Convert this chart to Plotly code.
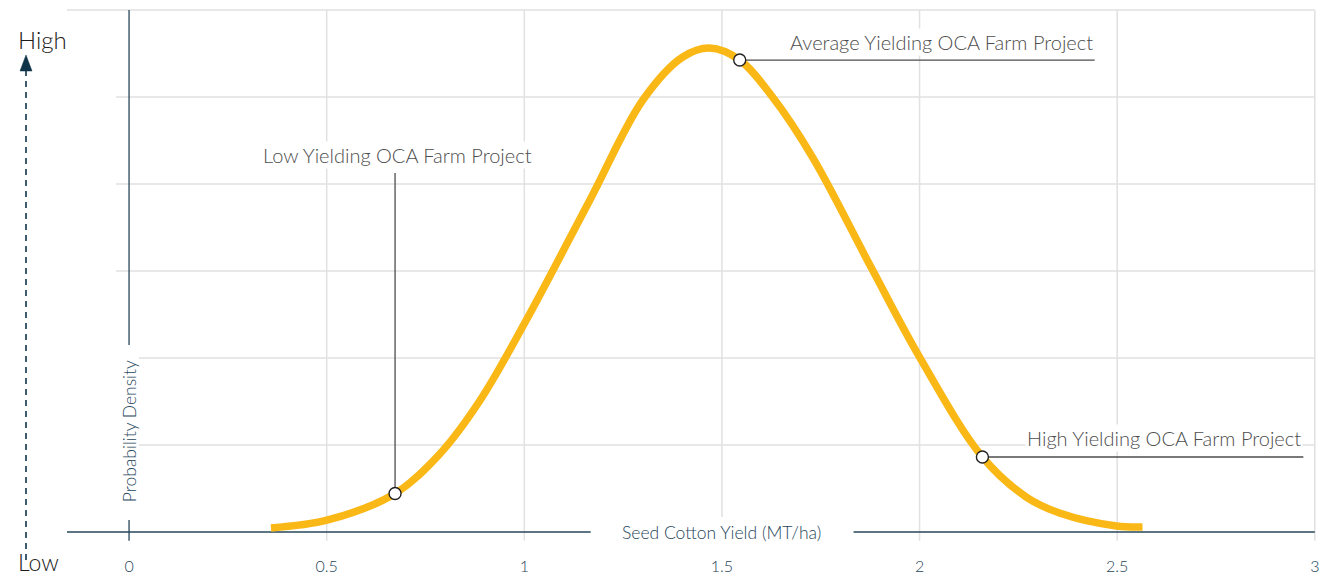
import plotly.graph_objects as go

# ---------------- data ----------------
curve_x = [0.359, 0.503, 0.673, 0.786, 0.887, 1.001, 1.166, 1.300, 1.401, 1.469,
           1.545, 1.628, 1.729, 1.881, 2.000, 2.159, 2.270, 2.354, 2.498, 2.564]
curve_y = [0.046, 0.138, 0.443, 0.897, 1.506, 2.402, 3.816, 4.966, 5.460, 5.563,
           5.425, 5.000, 4.310, 3.011, 2.011, 0.862, 0.402, 0.218, 0.069, 0.057]

point_names = ["Low Yielding OCA Farm Project",
               "Average Yielding OCA Farm Project",
               "High Yielding OCA Farm Project"]
point_x = [0.673, 1.545, 2.159]
point_y = [0.443, 5.425, 0.862]

tick_vals = [0, 0.5, 1, 1.5, 2, 2.5, 3]
tick_text = ["0", "0.5", "1", "1.5", "2", "2.5", "3"]
grid_y = [1, 2, 3, 4, 5, 6]

x_title = "Seed Cotton Yield (MT/ha)"
y_title = "Probability Density"

# ---------------- style / layout ----------------
FONT = "Lato"
NAVY = "#27465a"
GRID = "#e1e1e1"
ANN = "#4d4d4d"
YELLOW = "#f9b816"

W, H = 1320, 576
L, R, T, B = 67, 4, 9, 34
XR = [-0.157, 3.003]
YR = [-0.115, 6.012]


def px_to_paper_x(px):
    return (px - L) / (W - L - R)


def px_to_paper_y(py):
    return (H - B - py) / (H - T - B)


fig = go.Figure()

shapes = []
# vertical gridlines
for v in tick_vals[1:]:
    shapes.append(dict(type="line", xref="x", yref="y", x0=v, x1=v, y0=-0.1, y1=6,
                       line=dict(color=GRID, width=1.5), layer="below"))
# horizontal gridlines
for g in grid_y:
    x_start = XR[0] if g == 6 else -0.033
    shapes.append(dict(type="line", xref="x", yref="y", x0=x_start, x1=3, y0=g, y1=g,
                       line=dict(color=GRID, width=1.5), layer="below"))
# axis lines
shapes.append(dict(type="line", xref="x", yref="y", x0=XR[0], x1=3, y0=0, y1=0,
                   line=dict(color=NAVY, width=1.3), layer="below"))
shapes.append(dict(type="line", xref="x", yref="y", x0=0, x1=0, y0=-0.1, y1=6,
                   line=dict(color=NAVY, width=1.3), layer="below"))

# white backing behind axis titles
shapes.append(dict(type="rect", xref="x", yref="y", x0=1.168, x1=1.833, y0=-0.11, y1=0.172,
                   fillcolor="white", line=dict(width=0), layer="above"))
shapes.append(dict(type="rect", xref="x", yref="y", x0=-0.035, x1=0.025, y0=0.138, y1=2.15,
                   fillcolor="white", line=dict(width=0), layer="above"))

# annotation leader lines
shapes.append(dict(type="line", xref="x", yref="y", x0=point_x[0], x1=point_x[0],
                   y0=point_y[0], y1=4.126, line=dict(color=ANN, width=1.3), layer="below"))
shapes.append(dict(type="line", xref="x", yref="y", x0=point_x[1], x1=2.443,
                   y0=point_y[1], y1=point_y[1], line=dict(color=ANN, width=1.3), layer="below"))
shapes.append(dict(type="line", xref="x", yref="y", x0=point_x[2], x1=2.971,
                   y0=point_y[2], y1=point_y[2], line=dict(color=ANN, width=1.3), layer="below"))

# dashed "Low -> High" arrow at left
ax = px_to_paper_x(26)
shapes.append(dict(type="line", xref="paper", yref="paper", x0=ax, x1=ax,
                   y0=px_to_paper_y(560), y1=px_to_paper_y(71),
                   line=dict(color="#0f3349", width=1.6, dash="6px,5px")))
shapes.append(dict(type="path", xref="paper", yref="paper",
                   path=(f"M {px_to_paper_x(20)} {px_to_paper_y(71)} "
                         f"L {px_to_paper_x(32)} {px_to_paper_y(71)} "
                         f"L {px_to_paper_x(26)} {px_to_paper_y(55)} Z"),
                   fillcolor="#0f3349", line=dict(color="#0f3349", width=0.5)))

fig.add_trace(go.Scatter(x=curve_x, y=curve_y, mode="lines",
                         line=dict(color=YELLOW, width=7.5, shape="spline", smoothing=1.0),
                         hoverinfo="skip", showlegend=False))
fig.add_trace(go.Scatter(x=point_x, y=point_y, mode="markers", text=point_names,
                         marker=dict(size=12, color="white",
                                     line=dict(color="#222222", width=1.4)),
                         showlegend=False))

afont = dict(family=FONT, size=20, color=ANN, weight=300)
tfont = dict(family=FONT, size=17.5, color=NAVY, weight=300)
annotations = [
    dict(x=point_x[0] + 0.005, y=4.333, xref="x", yref="y", text=point_names[0],
         showarrow=False, xanchor="center", yanchor="middle", bgcolor="white", font=afont),
    dict(x=2.443, y=5.632, xref="x", yref="y", text=point_names[1],
         showarrow=False, xanchor="right", yanchor="middle", bgcolor="white", font=afont),
    dict(x=2.971, y=1.080, xref="x", yref="y", text=point_names[2],
         showarrow=False, xanchor="right", yanchor="middle", bgcolor="white", font=afont),
    dict(x=1.5, y=0, xref="x", yref="y", text=x_title,
         showarrow=False, xanchor="center", yanchor="middle", font=tfont),
    dict(x=0, y=1.16, xref="x", yref="y", text=y_title, textangle=-90,
         showarrow=False, xanchor="center", yanchor="middle", font=tfont),
    dict(x=px_to_paper_x(16), y=px_to_paper_y(40), xref="paper", yref="paper",
         text="High", showarrow=False, xanchor="left", yanchor="middle",
         font=dict(family=FONT, size=24, color="#1b1b1b", weight=300)),
    dict(x=px_to_paper_x(16), y=px_to_paper_y(562), xref="paper", yref="paper",
         text="Low", showarrow=False, xanchor="left", yanchor="middle",
         font=dict(family=FONT, size=23, color="#1b1b1b", weight=300)),
]

fig.update_layout(
    width=W, height=H,
    margin=dict(l=L, r=R, t=T, b=B, autoexpand=False),
    paper_bgcolor="white", plot_bgcolor="white",
    shapes=shapes, annotations=annotations,
    xaxis=dict(range=XR, tickvals=tick_vals, ticktext=tick_text, showgrid=False,
               zeroline=False, showline=False, ticks="outside", ticklen=10,
               tickcolor="rgba(0,0,0,0)", automargin=False,
               tickfont=dict(family=FONT, size=16, color=NAVY, weight=300)),
    yaxis=dict(range=YR, visible=False, showgrid=False, zeroline=False, automargin=False),
)

fig.write_html("out.html",
               config={"displayModeBar": False},
               post_script="document.body.style.margin='0';")
